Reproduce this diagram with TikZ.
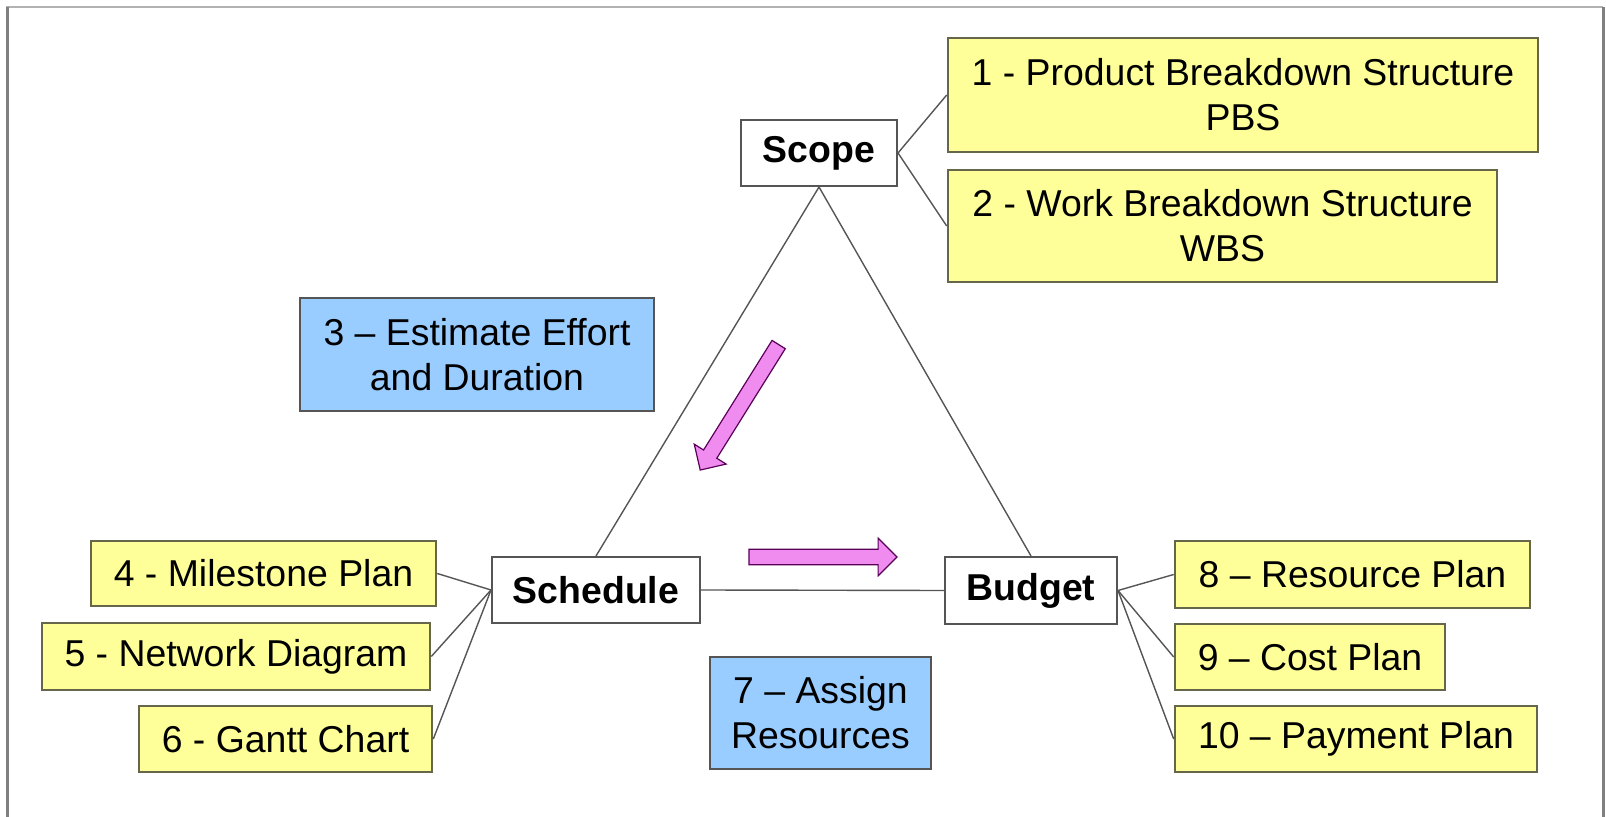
\documentclass[tikz,border=0pt]{standalone}
\usepackage{fontspec}
\setmainfont{Liberation Sans}
\usetikzlibrary{shapes.arrows}

\definecolor{boxyellow}{HTML}{FFFF99}
\definecolor{boxblue}{HTML}{99CCFF}
\definecolor{arrowpink}{HTML}{F08CF0}
\definecolor{edgegray}{HTML}{555555}
\definecolor{olivegray}{HTML}{66664A}

\tikzset{
  txt/.style={font=\fontsize{18.7pt}{22.5pt}\selectfont, align=center, inner sep=0pt},
  mainbox/.style={txt, draw=edgegray, line width=1pt, fill=white,
    font=\fontsize{18.7pt}{22.5pt}\selectfont\bfseries},
  yellowbox/.style={txt, draw=olivegray, line width=1.3pt, fill=boxyellow},
  bluebox/.style={txt, draw=edgegray, line width=1.3pt, fill=boxblue},
  link/.style={draw=edgegray, line width=0.7pt},
  pinkarrow/.style={single arrow, draw=violet!70!black, fill=arrowpink, line width=0.6pt,
    inner sep=3.6pt, single arrow head extend=5.5pt, minimum height=74pt}
}

\begin{document}
\begin{tikzpicture}[x=0.5pt, y=-0.5pt]
    \useasboundingbox (0,0) rectangle (1606,817);

    % frame
    \draw[gray!60, line width=1.2pt] (7,817) |- (1603,7);
    \draw[gray, line width=1.5pt] (7,817) -- (7,7);
    \draw[gray, line width=1.5pt] (1603,7) -- (1603,817);

    % triangle corners
    \node[mainbox, minimum width=78pt, minimum height=33pt] (scope) at (819,153) {Scope};
    \node[mainbox, minimum width=104pt, minimum height=33pt] (sched) at (596,590) {Schedule};
    \node[mainbox, minimum width=86pt, minimum height=33.5pt] (budget) at (1031,590.5) {Budget};

    \draw[link] (scope.south) -- (sched.north);
    \draw[link] (scope.south) -- (budget.north);
    \draw[link] (sched.east) -- (budget.west);

    % scope products
    \node[yellowbox, minimum width=295pt, minimum height=57pt] (pbs) at (1243,95)
      {1 - Product Breakdown Structure\\PBS};
    \node[yellowbox, minimum width=274.5pt, minimum height=56pt] (wbs) at (1222.5,226)
      {2 - Work Breakdown Structure\\WBS};
    \draw[link] (scope.east) -- (pbs.west);
    \draw[link] (scope.east) -- (wbs.west);

    % steps
    \node[bluebox, minimum width=177pt, minimum height=56.5pt] (effort) at (477,354.5)
      {3 -- Estimate Effort\\and Duration};
    \node[bluebox, minimum width=110.5pt, minimum height=56pt] (assign) at (820.5,713)
      {7 -- Assign\\Resources};
    \node[pinkarrow, rotate=238] (toSched) at (741.5,404) {};
    \node[pinkarrow] (toBudget) at (819,557) {};

    % schedule plans
    \node[yellowbox, minimum width=172.5pt, minimum height=32.5pt] (milestone) at (263.5,573.5)
      {4 - Milestone Plan};
    \node[yellowbox, minimum width=194pt, minimum height=33.5pt] (network) at (236,656.5)
      {5 - Network Diagram};
    \node[yellowbox, minimum width=146.5pt, minimum height=33pt] (gantt) at (285.5,739)
      {6 - Gantt Chart};
    \draw[link] (milestone.east) -- (sched.west);
    \draw[link] (network.east) -- (sched.west);
    \draw[link] (gantt.east) -- (sched.west);

    % budget plans
    \node[yellowbox, minimum width=177.5pt, minimum height=33.5pt] (resource) at (1352.5,574.5)
      {8 -- Resource Plan};
    \node[yellowbox, minimum width=135pt, minimum height=33pt] (cost) at (1310,657)
      {9 -- Cost Plan};
    \node[yellowbox, minimum width=181pt, minimum height=33pt] (payment) at (1356,739)
      {10 -- Payment Plan};
    \draw[link] (budget.east) -- (resource.west);
    \draw[link] (budget.east) -- (cost.west);
    \draw[link] (budget.east) -- (payment.west);
\end{tikzpicture}
\end{document}
